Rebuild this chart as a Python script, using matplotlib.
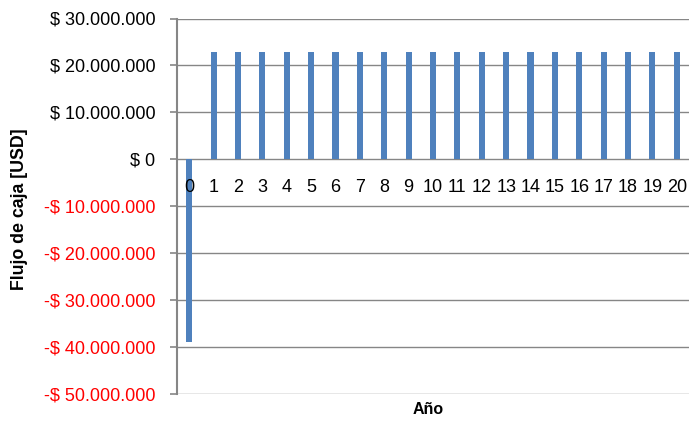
import matplotlib
matplotlib.use("Agg")
import matplotlib.pyplot as plt
import matplotlib.transforms as mtransforms
from matplotlib.ticker import FixedLocator

# Project cash flow by year (USD)
years = list(range(0, 21))
cash_flow = [-38900000] + [22800000] * 20
y_ticks = [30000000, 20000000, 10000000, 0, -10000000, -20000000,
           -30000000, -40000000, -50000000]

BAR_COLOR = "#4F81BD"
AXIS_GRAY = "#868686"
FONT = "Liberation Sans"


def money(v):
    s = f"{abs(int(v)):,}".replace(",", ".")
    return f"-$ {s}" if v < 0 else f"$ {s}"


fig = plt.figure(figsize=(6.89, 4.21), dpi=100)
W, H = 689, 421
ax = fig.add_axes([177 / W, 1 - 394 / H, (689 - 177) / W, (394 - 18.5) / H])

ax.bar(years, cash_flow, width=0.25, color=BAR_COLOR, zorder=3)

ax.set_xlim(-0.5, 20.5)
ax.set_ylim(-50000000, 30000000)
ax.yaxis.set_major_locator(FixedLocator(y_ticks))
ax.set_yticklabels([money(v) for v in y_ticks], fontsize=13, family=FONT)
for lbl, v in zip(ax.get_yticklabels(), y_ticks):
    lbl.set_color("#FF0000" if v < 0 else "black")

ax.grid(axis="y", color=AXIS_GRAY, linewidth=1.0, zorder=1)
ax.set_xticks([])
for side in ("top", "right", "bottom"):
    ax.spines[side].set_visible(False)
ax.spines["left"].set_color(AXIS_GRAY)
ax.spines["left"].set_linewidth(1.5)
ax.tick_params(axis="y", length=5, width=1.2, color=AXIS_GRAY, pad=10.5)

# Category labels sit just below the zero line
offset = mtransforms.offset_copy(ax.transData, fig=fig, x=0, y=-28, units="dots")
for yr in years:
    ax.text(yr, 0, str(yr), transform=offset, ha="center", va="center",
            fontsize=13, family=FONT)

fig.text(428 / W, 1 - 410 / H, "Año", ha="center", va="center",
         fontsize=11.5, fontweight="bold", family=FONT)
fig.text(20 / W, 1 - 209 / H, "Flujo de caja [USD]", ha="center", va="center",
         rotation=90, fontsize=12.8, fontweight="bold", family=FONT)

fig.savefig("out.png", dpi=100)
